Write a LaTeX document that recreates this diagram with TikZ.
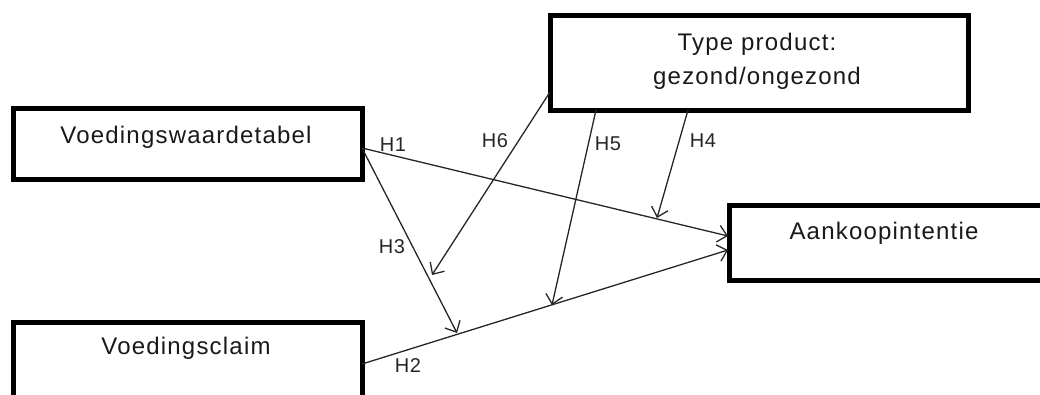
\documentclass[tikz,border=0pt]{standalone}
\usepackage{fontspec}
\setmainfont{Liberation Sans}
\newfontfamily\boxfont[LetterSpace=5]{Liberation Sans}
\newfontfamily\labfont[LetterSpace=3]{Liberation Sans}
\usetikzlibrary{arrows.meta}
\begin{document}
\begin{tikzpicture}[x=1pt,y=-1pt,
  box/.style={draw=black,line width=5pt,rectangle,inner sep=0pt,fill=white},
  boxtext/.style={inner sep=0pt,font=\boxfont\fontsize{24}{30}\selectfont,text=black!90},
  hlabel/.style={inner sep=0pt,font=\labfont\fontsize{20}{24}\selectfont,text=black!85},
  conn/.style={draw=black!85,line width=1.3pt,-{Straight Barb[length=9pt,width=17pt,line width=1.3pt]}}]
\useasboundingbox (0,0) rectangle (1040,394);
\begin{scope}
\clip (0,0) rectangle (1040,394);
% boxes
\node[box,minimum width=349pt,minimum height=71pt] (vw) at (187.5,143.5) {};
\node[box,minimum width=418pt,minimum height=95pt] (tp) at (759,62.5) {};
\node[box,minimum width=349pt,minimum height=98pt] (vc) at (187.5,371) {};
\node[box,minimum width=321pt,minimum height=75pt] (ak) at (889.5,242.5) {};
\end{scope}
% texts
\node[boxtext] (vwt) at (186,137) {Voedingswaardetabel};
\node[boxtext] (tpt1) at (757,44) {Type product:};
\node[boxtext] (tpt2) at (757,78) {gezond/ongezond};
\node[boxtext] (vct) at (186,348) {Voedingsclaim};
\node[boxtext] (akt) at (884,233) {Aankoopintentie};
% connector end points
\coordinate (s1) at (362,148);
\coordinate (s2) at (362,364);
\coordinate (s6) at (550,92);
\coordinate (s5) at (596,110);
\coordinate (s4) at (688,110);
\coordinate (e1) at (728,236);
\coordinate (e2) at (728,250);
\coordinate (e3) at (457,333);
\coordinate (e6) at (432,275);
\coordinate (e5) at (552,305);
\coordinate (e4) at (657,218);
% connectors
\draw[conn] (s1) -- (e1);
\draw[conn] (s1) -- (e3);
\draw[conn] (s2) -- (e2);
\draw[conn] (s6) -- (e6);
\draw[conn] (s5) -- (e5);
\draw[conn] (s4) -- (e4);
% labels
\node[hlabel] (h1) at (393,145) {H1};
\node[hlabel] (h6) at (495,141) {H6};
\node[hlabel] (h5) at (608,144) {H5};
\node[hlabel] (h4) at (703,141) {H4};
\node[hlabel] (h3) at (392,247) {H3};
\node[hlabel] (h2) at (408,366) {H2};
\end{tikzpicture}
\end{document}
